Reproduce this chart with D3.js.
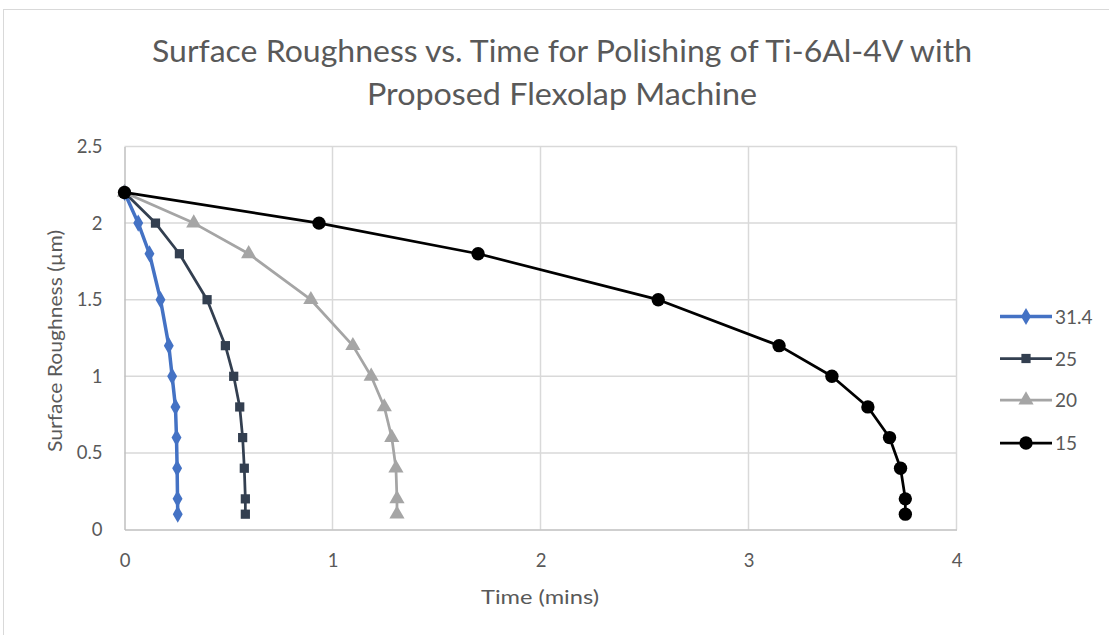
<!DOCTYPE html>
<html><head><meta charset="utf-8">
<script src="https://cdn.jsdelivr.net/npm/d3@7"></script>
<style>body{margin:0;background:#fff;} svg{display:block;}</style>
</head><body>
<svg id="c" width="1109" height="635"></svg>
<script>
const roughness = [2.2, 2.0, 1.8, 1.5, 1.2, 1.0, 0.8, 0.6, 0.4, 0.2, 0.1];
const time314 = [0, 0.066, 0.12, 0.173, 0.213, 0.229, 0.245, 0.25, 0.253, 0.255, 0.256];
const time25  = [0, 0.149, 0.264, 0.397, 0.485, 0.525, 0.554, 0.568, 0.576, 0.581, 0.581];
const time20  = [0, 0.333, 0.597, 0.896, 1.098, 1.186, 1.249, 1.285, 1.305, 1.31, 1.31];
const time15  = [0, 0.935, 1.70, 2.566, 3.147, 3.401, 3.574, 3.678, 3.731, 3.754, 3.754];
const seriesNames = ["31.4", "25", "20", "15"];
const xTicks = [0, 1, 2, 3, 4];
const yTicks = [0, 0.5, 1, 1.5, 2, 2.5];

const series = [
  {name: seriesNames[0], t: time314, color: "#4472c4", w: 3.5, sym: d3.symbolDiamond, size: 85},
  {name: seriesNames[1], t: time25,  color: "#333f50", w: 2.75, sym: d3.symbolSquare, size: 85},
  {name: seriesNames[2], t: time20,  color: "#a5a5a5", w: 2.75, sym: d3.symbolTriangle, size: 100},
  {name: seriesNames[3], t: time15,  color: "#000000", w: 2.75, sym: d3.symbolCircle, size: 140}
];

const svg = d3.select("#c");
const font = "Lato, 'Open Sans', sans-serif";
// outer chart border
svg.append("rect").attr("x", 3.5).attr("y", 9.5).attr("width", 1120).attr("height", 640)
  .attr("fill", "#fff").attr("stroke", "#d9d9d9").attr("stroke-width", 1);

const x = d3.scaleLinear().domain([0, 4]).range([124.5, 956.5]);
const y = d3.scaleLinear().domain([0, 2.5]).range([529.5, 146.5]);

// gridlines
svg.append("g").selectAll("line").data(yTicks.filter(d => d > 0)).join("line")
  .attr("x1", x(0)).attr("x2", x(4)).attr("y1", d => y(d)).attr("y2", d => y(d))
  .attr("stroke", "#d9d9d9").attr("stroke-width", 1.5);
svg.append("g").selectAll("line").data(xTicks.filter(d => d > 0)).join("line")
  .attr("y1", y(0)).attr("y2", y(2.5)).attr("x1", d => x(d)).attr("x2", d => x(d))
  .attr("stroke", "#d9d9d9").attr("stroke-width", 1.5);

// axes
const xAxis = svg.append("g").attr("transform", `translate(0,${y(0)})`)
  .call(d3.axisBottom(x).tickValues(xTicks).tickSize(0).tickPadding(24).tickFormat(d3.format("")));
const yAxis = svg.append("g").attr("transform", `translate(${x(0)},0)`)
  .call(d3.axisLeft(y).tickValues(yTicks).tickSize(0).tickPadding(22).tickFormat(d => String(d)));
[xAxis, yAxis].forEach(g => {
  g.select(".domain").attr("stroke", "#bfbfbf").attr("stroke-width", 1.5);
  g.selectAll("text").attr("fill", "#595959").style("font-family", font).style("font-size", "18.5px");
});

// lines and markers
const line = d3.line().x(d => x(d[0])).y(d => y(d[1]));
series.forEach(s => {
  const pts = s.t.map((t, i) => [t, roughness[i]]);
  svg.append("path").datum(pts).attr("d", line).attr("fill", "none")
    .attr("stroke", s.color).attr("stroke-width", s.w).attr("stroke-linejoin", "round");
  svg.append("g").selectAll("path").data(pts).join("path")
    .attr("d", d3.symbol().type(s.sym).size(s.size))
    .attr("transform", d => `translate(${x(d[0])},${y(d[1])})`)
    .attr("fill", s.color);
});

// title
const title = svg.append("g").attr("fill", "#595959").style("font-family", font);
title.append("text").attr("x", 562).attr("y", 62).attr("text-anchor", "middle")
  .style("font-size", "30px")
  .attr("textLength", 820).attr("lengthAdjust", "spacingAndGlyphs")
  .text("Surface Roughness vs. Time for Polishing of Ti-6Al-4V with");
title.append("text").attr("x", 562).attr("y", 105).attr("text-anchor", "middle")
  .style("font-size", "30px")
  .attr("textLength", 390).attr("lengthAdjust", "spacingAndGlyphs")
  .text("Proposed Flexolap Machine");

// axis titles
svg.append("text").attr("x", 540).attr("y", 604).attr("text-anchor", "middle")
  .attr("fill", "#595959").style("font-family", font).style("font-size", "19px")
  .attr("textLength", 118).attr("lengthAdjust", "spacingAndGlyphs")
  .text("Time (mins)");
svg.append("text").attr("transform", "translate(62,341) rotate(-90)").attr("text-anchor", "middle")
  .attr("fill", "#595959").style("font-family", font).style("font-size", "19px")
  .attr("textLength", 222).attr("lengthAdjust", "spacingAndGlyphs")
  .text("Surface Roughness (µm)");

// legend
const legY = [316.5, 358.5, 400, 443];
series.forEach((s, i) => {
  const g = svg.append("g").attr("transform", `translate(0,${legY[i]})`);
  g.append("line").attr("x1", 1000).attr("x2", 1052).attr("y1", 0).attr("y2", 0)
    .attr("stroke", s.color).attr("stroke-width", s.w);
  g.append("path").attr("d", d3.symbol().type(s.sym).size(s.size))
    .attr("transform", "translate(1026,0)").attr("fill", s.color);
  g.append("text").attr("x", 1055).attr("y", 7).attr("fill", "#595959")
    .style("font-family", font).style("font-size", "19px").text(s.name);
});
</script>
</body></html>
